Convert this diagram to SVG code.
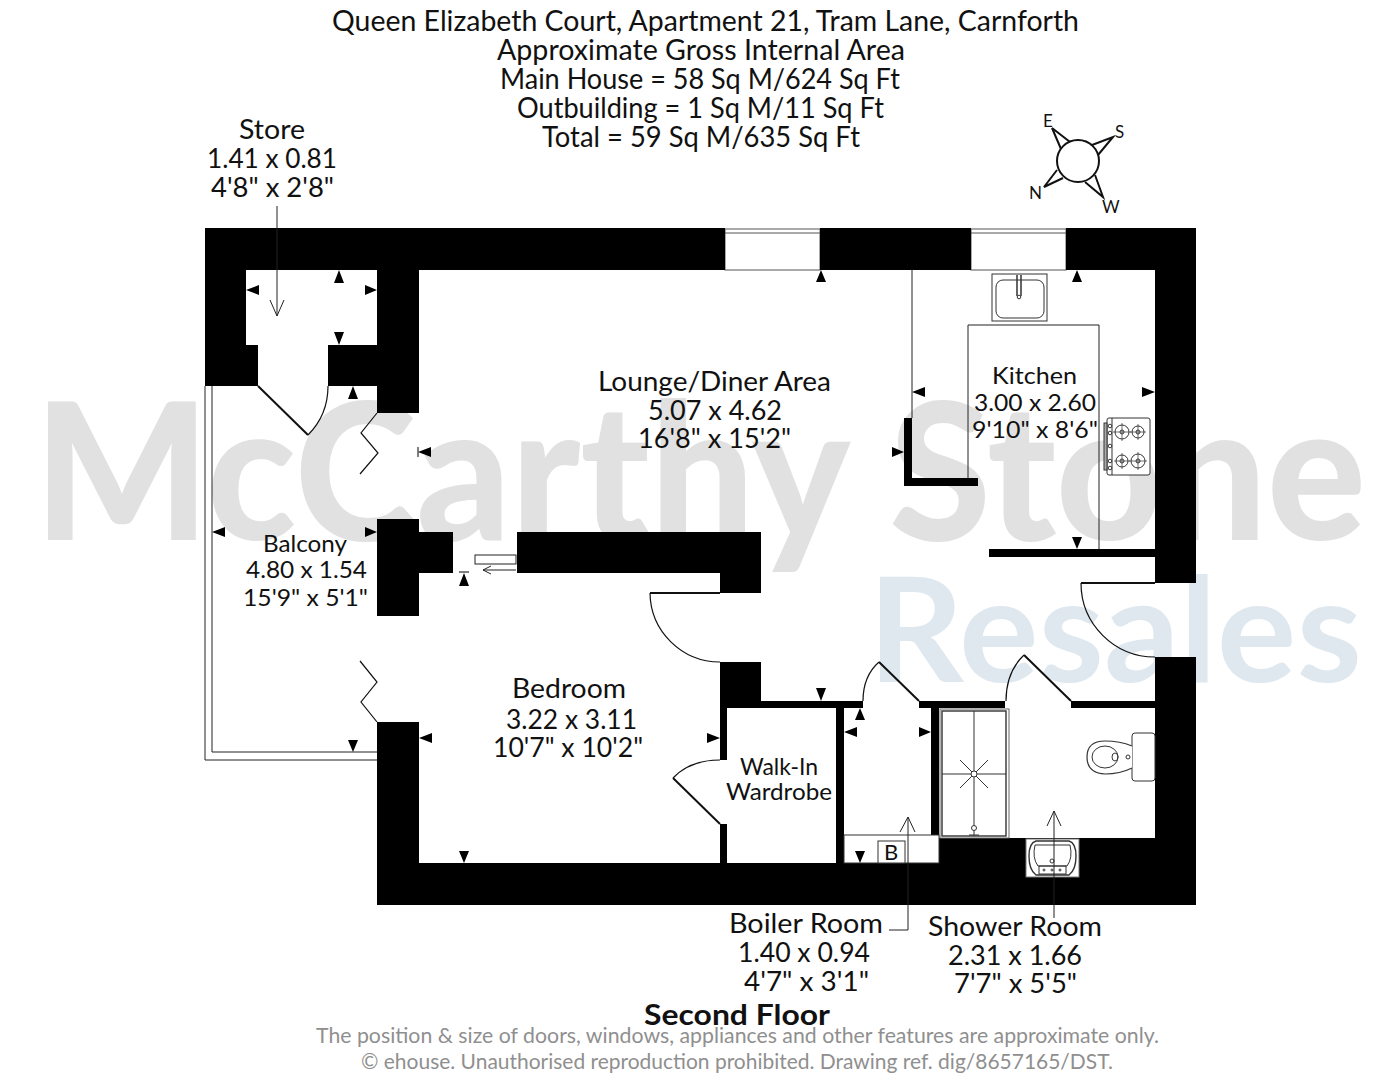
<svg xmlns="http://www.w3.org/2000/svg" width="1398" height="1080" viewBox="0 0 1398 1080">
<style>
text{font-family:"Lato","Noto Sans","Liberation Sans",sans-serif;fill:#111;text-anchor:start}
.t{font-size:28px}.r{font-size:26px}.s{font-size:23px}.c{font-size:17px}
.g{fill:#8f8f8f;font-size:22px}
.l{fill:none;stroke:#222;stroke-width:1}
.d{fill:none;stroke:#111;stroke-width:2}
.k{fill:none;stroke:#111;stroke-width:1.2}
.a{fill:#000}
</style>
<rect width="1398" height="1080" fill="#fff"/>
<g id="watermark">
<text x="34" y="540" font-size="190" font-weight="900" textLength="1332" lengthAdjust="spacingAndGlyphs" style="fill:#e1e1e1">McCarthy Stone</text>
<text x="868" y="682" font-size="146" font-weight="700" textLength="494" lengthAdjust="spacingAndGlyphs" style="fill:#dfe8ef">Resales</text>
</g>
<g id="title">
<text class="t" x="332" y="31" textLength="747" lengthAdjust="spacingAndGlyphs">Queen Elizabeth Court, Apartment 21, Tram Lane, Carnforth</text>
<text class="t" x="497" y="60" textLength="408" lengthAdjust="spacingAndGlyphs">Approximate Gross Internal Area</text>
<text class="t" x="500" y="89" textLength="400" lengthAdjust="spacingAndGlyphs">Main House = 58 Sq M/624 Sq Ft</text>
<text class="t" x="517" y="118" textLength="367" lengthAdjust="spacingAndGlyphs">Outbuilding = 1 Sq M/11 Sq Ft</text>
<text class="t" x="542" y="147" textLength="318" lengthAdjust="spacingAndGlyphs">Total = 59 Sq M/635 Sq Ft</text>
</g>
<g id="compass">
<circle class="d" cx="1078" cy="161" r="21"/>
<path class="d" d="M1070 142L1052 128L1061 149M1092 145L1113 137L1098 155M1095 175L1103 197L1085 182M1057 170L1044 187L1063 178"/>
<text class="c" x="1043" y="127">E</text><text class="c" x="1115" y="138">S</text><text class="c" x="1029" y="199">N</text><text class="c" x="1102" y="213">W</text>
</g>
<g id="windows" fill="#fff" stroke="#555">
<rect x="725" y="229" width="95" height="41"/><path d="M725 233H820" fill="none"/>
<rect x="971" y="229" width="95" height="41"/><path d="M971 233H1066" fill="none"/>
</g>
<g id="thin-lines">
<path class="l" d="M205 386V760H377M212 386V752H377"/>
<path class="l" d="M912 270V418M968 478V325H1099V549"/>
<path class="k" d="M377 413L361 433L378 453L360 474M360 661L377 682L361 702L377 722"/>
</g>
<g id="walls" fill="#000">
<rect x="205" y="228" width="520" height="42"/><rect x="820" y="228" width="151" height="42"/><rect x="1066" y="228" width="130" height="42"/>
<rect x="205" y="270" width="41" height="116"/><rect x="246" y="345" width="12" height="41"/><rect x="328" y="345" width="91" height="41"/><rect x="377" y="270" width="42" height="143"/>
<rect x="1155" y="270" width="41" height="313"/><rect x="1155" y="657" width="41" height="248"/>
<rect x="377" y="863" width="819" height="42"/><rect x="377" y="722" width="42" height="141"/><rect x="939" y="838" width="216" height="25"/>
<rect x="377" y="519" width="42" height="97"/><rect x="419" y="532" width="34" height="41"/>
<rect x="517" y="532" width="244" height="41"/><rect x="720" y="573" width="41" height="20"/>
<rect x="720" y="662" width="41" height="46"/><rect x="720" y="708" width="7" height="52"/><rect x="720" y="824" width="7" height="39"/>
<rect x="761" y="701" width="102" height="7"/><rect x="836" y="708" width="8" height="155"/>
<rect x="919" y="701" width="86" height="7"/><rect x="931" y="708" width="8" height="127"/><rect x="1071" y="701" width="84" height="7"/>
<rect x="904" y="418" width="8" height="68"/><rect x="904" y="478" width="74" height="8"/><rect x="989" y="549" width="166" height="8"/>
</g>
<g id="doors">
<path class="d" d="M258 386L308 435M720 593H650M919 701L879 662M1071 701L1024 655M673 778L720 824M1155 583H1081"/>
<path class="k" d="M308 435Q328 415 328 386M650 593A70 70 0 0 0 720 662M879 662Q863 676 863 701M1024 655Q1006 672 1006 701M720 760Q690 760 673 778M1081 583A74 74 0 0 0 1155 657"/>
</g>
<g id="fixtures" stroke="#333" fill="none">
<rect x="992" y="274" width="55" height="47" fill="#fff"/>
<rect x="996" y="280" width="48" height="38" rx="7" fill="#fff"/>
<path d="M1017 275V296M1021 275V296" stroke-width="1.5"/><circle cx="1019" cy="297" r="1.8" fill="#fff"/>
<rect x="1107" y="418" width="43" height="57" rx="2" fill="#fff"/><rect x="1104" y="423" width="3" height="47" fill="#aaa"/>
<path d="M1112 418V475"/>
<g fill="#fff"><circle cx="1122" cy="432" r="7"/><circle cx="1122" cy="432" r="2"/><circle cx="1138" cy="432" r="6"/><circle cx="1138" cy="432" r="2"/><circle cx="1122" cy="461" r="6"/><circle cx="1122" cy="461" r="2"/><circle cx="1138" cy="461" r="7"/><circle cx="1138" cy="461" r="2"/>
<circle cx="1110" cy="426" r="1.8"/><circle cx="1110" cy="433" r="1.8"/><circle cx="1110" cy="446" r="1.8"/><circle cx="1110" cy="461" r="1.8"/><circle cx="1110" cy="468" r="1.8"/></g>
<path d="M1113 432H1131M1122 423V441M1130 432H1146M1138 424V440M1114 461H1130M1122 453V469M1129 461H1147M1138 452V470" stroke-width=".7"/>
<rect x="940" y="709" width="69" height="129" fill="#fff" stroke="#666"/><rect x="942" y="711" width="64" height="125" stroke-width="1.4"/>
<path d="M974 711V836M942 774H1006M960 760L988 788M960 788L988 760"/><circle cx="974" cy="774" r="3" fill="#fff"/><circle cx="974" cy="828" r="2.5" fill="#fff"/><path d="M969 835H979"/>
<rect x="844" y="835" width="95" height="28" fill="#fff"/>
<rect x="878" y="841" width="27" height="22" fill="#fff"/>
<rect x="1026" y="839" width="53" height="38" fill="#fff" stroke="#777"/>
<path d="M1036 841H1069Q1076 843 1076 856Q1076 870 1069 875H1036Q1029 870 1029 856Q1029 843 1036 841Z" stroke-width="1.4"/>
<path d="M1035 845H1070Q1073 858 1067 866H1038Q1032 858 1035 845Z"/><rect x="1039" y="866" width="27" height="8"/><circle cx="1052" cy="861" r="2"/><circle cx="1044" cy="870" r="1"/><circle cx="1052" cy="870" r="1"/><circle cx="1060" cy="870" r="1"/>
<rect x="1132" y="733" width="23" height="48" rx="3" fill="#fff"/>
<path d="M1132 746Q1120 741 1105 741Q1087 741 1087 757Q1087 773 1105 774Q1120 774 1132 768" fill="#fff" stroke-width="1.2"/>
<ellipse cx="1105" cy="757" rx="13" ry="11"/><ellipse cx="1115" cy="757" rx="3" ry="4"/><circle cx="1128" cy="757" r="2"/>
</g>
<g id="connectors" class="leaders">
<path class="l" d="M277 206V316M270 300L277 316L284 300"/>
<path class="l" d="M908 817V930H889M900 832L908 817L915 832"/>
<path class="l" d="M1054 811V918M1047 826L1054 811L1061 826"/>
<path class="l" d="M516 570H483M491 566L483 570L491 574"/>
<rect class="l" style="fill:#fff" x="475" y="555" width="41" height="9"/>
</g>
<g id="ticks" class="a">
<path d="M246 290L259 285V295Z M339 270L334 283H344Z M377 290L365 285V295Z M339 345L334 332H344Z M353 386L348 399H358Z M418 452L431 447V457Z M821 270L816 282H826Z M1077 270L1072 282H1082Z M912 392L925 387V397Z M1155 392L1142 387V397Z M904 452L892 447V457Z M1077 549L1072 537H1082Z M377 532L365 527V537Z M212 532L225 527V537Z M464 573L459 586H469Z M419 738L432 733V743Z M720 738L707 733V743Z M464 863L459 851H469Z M821 701L816 688H826Z M844 732L857 727V737Z M860 708L855 720H865Z M931 732L919 727V737Z M860 863L855 851H865Z M353 752L348 740H358Z"/>
<path d="M418 447V457M459 572H469" stroke="#000"/>
</g>
<g id="labels">
<text class="r" x="239" y="139" textLength="66" lengthAdjust="spacingAndGlyphs">Store</text>
<text class="r" x="207" y="168" textLength="130" lengthAdjust="spacingAndGlyphs">1.41 x 0.81</text>
<text class="r" x="211" y="197" textLength="123" lengthAdjust="spacingAndGlyphs">4'8" x 2'8"</text>
<text class="r" x="598" y="391" textLength="233" lengthAdjust="spacingAndGlyphs">Lounge/Diner Area</text>
<text class="r" x="648" y="420" textLength="134" lengthAdjust="spacingAndGlyphs">5.07 x 4.62</text>
<text class="r" x="638" y="448" textLength="153" lengthAdjust="spacingAndGlyphs">16'8" x 15'2"</text>
<text class="s" x="992" y="384" textLength="85" lengthAdjust="spacingAndGlyphs">Kitchen</text>
<text class="s" x="974" y="411" textLength="122" lengthAdjust="spacingAndGlyphs">3.00 x 2.60</text>
<text class="s" x="972" y="438" textLength="126" lengthAdjust="spacingAndGlyphs">9'10" x 8'6"</text>
<text class="s" x="263" y="552" textLength="84" lengthAdjust="spacingAndGlyphs">Balcony</text>
<text class="s" x="246" y="578" textLength="121" lengthAdjust="spacingAndGlyphs">4.80 x 1.54</text>
<text class="s" x="243" y="606" textLength="125" lengthAdjust="spacingAndGlyphs">15'9" x 5'1"</text>
<text class="r" x="512" y="698" textLength="114" lengthAdjust="spacingAndGlyphs">Bedroom</text>
<text class="r" x="506" y="729" textLength="131" lengthAdjust="spacingAndGlyphs">3.22 x 3.11</text>
<text class="r" x="493" y="757" textLength="150" lengthAdjust="spacingAndGlyphs">10'7" x 10'2"</text>
<text class="s" x="740" y="775" textLength="78" lengthAdjust="spacingAndGlyphs">Walk-In</text>
<text class="s" x="726" y="800" textLength="106" lengthAdjust="spacingAndGlyphs">Wardrobe</text>
<text class="r" x="729" y="933" textLength="154" lengthAdjust="spacingAndGlyphs">Boiler Room</text>
<text class="r" x="738" y="962" textLength="132" lengthAdjust="spacingAndGlyphs">1.40 x 0.94</text>
<text class="r" x="744" y="991" textLength="125" lengthAdjust="spacingAndGlyphs">4'7" x 3'1"</text>
<text class="r" x="928" y="936" textLength="174" lengthAdjust="spacingAndGlyphs">Shower Room</text>
<text class="r" x="948" y="965" textLength="134" lengthAdjust="spacingAndGlyphs">2.31 x 1.66</text>
<text class="r" x="954" y="993" textLength="123" lengthAdjust="spacingAndGlyphs">7'7" x 5'5"</text>
<text x="884" y="860" style="font-size:22px">B</text>
<text x="644" y="1025" font-size="28" font-weight="700" textLength="186" lengthAdjust="spacingAndGlyphs">Second Floor</text>
<text class="g" x="316" y="1043" textLength="843" lengthAdjust="spacingAndGlyphs">The position &amp; size of doors, windows, appliances and other features are approximate only.</text>
<text class="g" x="361" y="1069" textLength="752" lengthAdjust="spacingAndGlyphs">© ehouse. Unauthorised reproduction prohibited. Drawing ref. dig/8657165/DST.</text>
</g>
</svg>
